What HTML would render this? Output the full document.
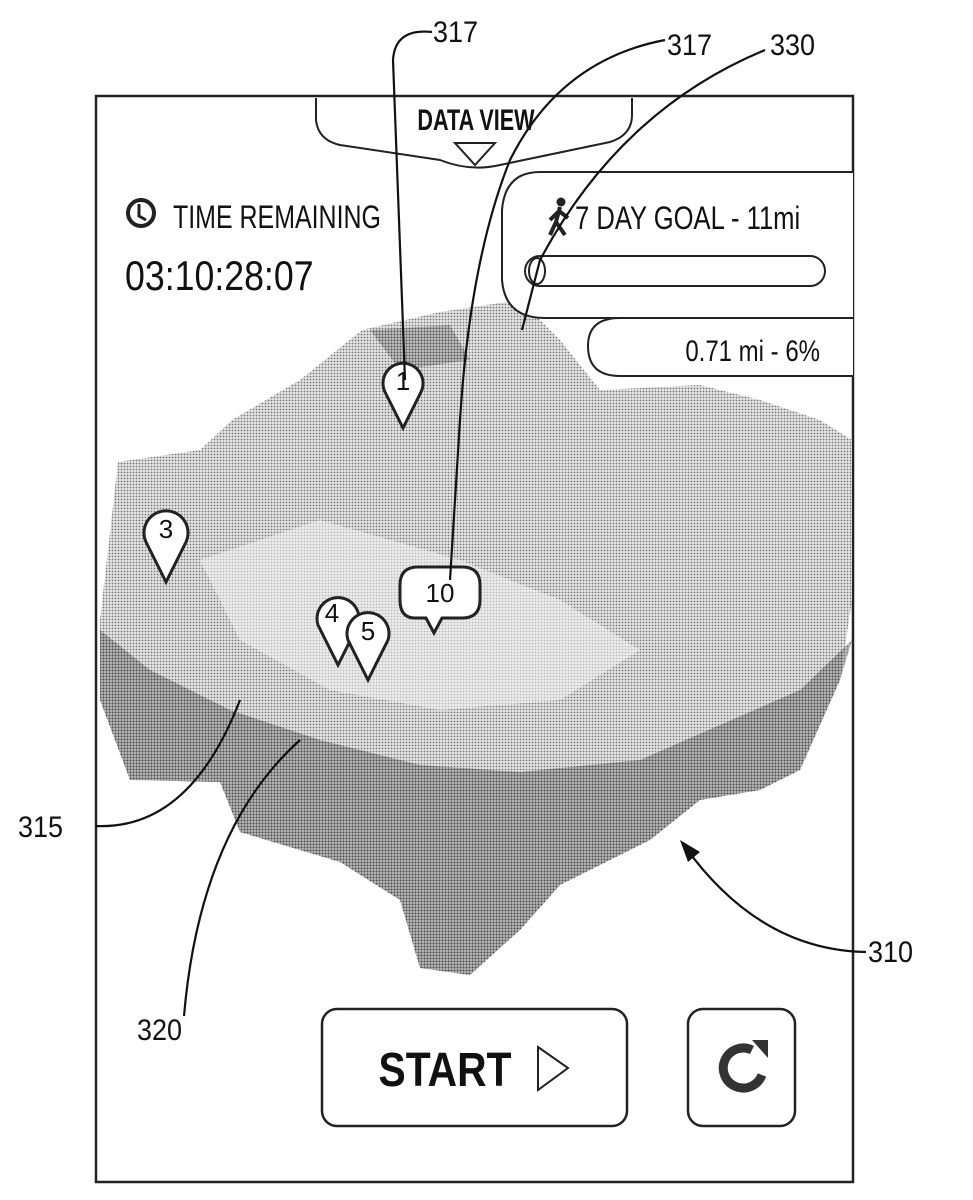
<!DOCTYPE html>
<html><head><meta charset="utf-8"><style>
html,body{margin:0;padding:0;background:#fff}
svg{display:block}
text{font-family:"Liberation Sans",sans-serif;fill:#111}
</style></head><body>
<svg width="973" height="1200" viewBox="0 0 973 1200" xmlns="http://www.w3.org/2000/svg">
<defs>
<pattern id="dots" width="3" height="3" patternUnits="userSpaceOnUse"><rect width="3" height="3" fill="#e4e4e4"/><circle cx="1.5" cy="1.5" r="0.9" fill="#777"/></pattern>
<pattern id="dark" width="3" height="3" patternUnits="userSpaceOnUse"><rect width="3" height="3" fill="#aaa"/><circle cx="1.5" cy="1.5" r="1.2" fill="#333"/></pattern>
</defs>
<rect x="96" y="96" width="757" height="1086" fill="none" stroke="#222" stroke-width="2.5"/>
<!-- terrain -->
<path d="M100,620 L118,462 L200,450 L232,420 L300,380 L362,330 L440,312 L520,300 L560,340 L600,390 L700,385 L760,400 L820,420 L852,440 L852,600 L840,680 L800,770 L760,790 L700,800 L650,840 L560,885 L520,930 L470,975 L420,968 L400,900 L340,862 L240,832 L220,782 L130,780 L100,700 Z" fill="url(#dots)"/>
<path d="M100,630 L150,670 L230,710 L320,740 L420,765 L520,772 L640,760 L720,725 L800,690 L852,640 L840,680 L800,770 L760,790 L700,800 L650,840 L560,885 L520,930 L470,975 L420,968 L400,900 L340,862 L240,832 L220,782 L130,780 L100,700 Z" fill="url(#dark)" opacity="0.6"/>
<path d="M200,560 L320,520 L460,560 L560,600 L640,650 L560,700 L440,710 L330,690 L240,640 Z" fill="#f2f2f2" opacity="0.55"/>
<path d="M370,330 L450,325 L470,360 L400,370 Z" fill="url(#dark)" opacity="0.5"/>
<!-- data view tab -->
<path d="M316,98 L316,120 Q318,140 340,145 L440,160 Q470,172 500,165 L610,142 Q632,135 632,115 L632,98" fill="#fff" stroke="#222" stroke-width="2"/>
<text x="476" y="130" font-size="30" font-weight="bold" text-anchor="middle" transform="translate(476 0) scale(0.72 1) translate(-476 0)">DATA VIEW</text>
<polygon points="455,143 495,143 475,165" fill="none" stroke="#222" stroke-width="2"/>
<!-- time remaining -->
<circle cx="141" cy="213" r="13" fill="none" stroke="#222" stroke-width="4"/>
<path d="M139,204 L139,216 L146,220" fill="none" stroke="#222" stroke-width="3"/>
<text x="173" y="228" font-size="32" transform="translate(173 0) scale(0.78 1) translate(-173 0)">TIME REMAINING</text>
<text x="125" y="290" font-size="42" transform="translate(125 0) scale(0.85 1) translate(-125 0)">03:10:28:07</text>
<!-- goal panel -->
<path d="M853,172 L540,172 Q505,172 502,210 L502,280 Q505,318 545,318 L853,318" fill="#fff" stroke="#222" stroke-width="2"/>
<g fill="#222" stroke="#222">
<circle cx="561" cy="202" r="4"/>
<path d="M560,207 L556,222 L550,235 M556,222 L565,235 M558,212 L550,220 M559,211 L568,218" stroke-width="4" fill="none"/>
</g>
<text x="575" y="229" font-size="32" transform="translate(575 0) scale(0.8 1) translate(-575 0)">7 DAY GOAL - 11mi</text>
<rect x="525" y="256" width="300" height="30" rx="15" fill="#fff" stroke="#222" stroke-width="2"/>
<ellipse cx="537" cy="271" rx="8" ry="13" fill="none" stroke="#222" stroke-width="2"/>
<path d="M853,318 L620,318 Q588,318 588,346 Q588,376 620,376 L853,376" fill="#fff" stroke="#222" stroke-width="2"/>
<text x="820" y="361" font-size="30" text-anchor="end" transform="translate(820 0) scale(0.8 1) translate(-820 0)">0.71 mi - 6%</text>
<!-- pins -->
<g fill="#fff" stroke="#222" stroke-width="3">
<path d="M403,428 L385,392 A20,20 0 1 1 421,392 Z"/>
<path d="M166,582 L146,542 A22,22 0 1 1 186,542 Z"/>
<path d="M338,665 L318,625 A21,21 0 1 1 358,625 Z"/>
<path d="M368,680 L348,640 A21,21 0 1 1 388,640 Z"/>
<path d="M434,633 L426,618 L415,618 Q400,618 400,600 L400,585 Q400,567 418,567 L462,567 Q480,567 480,585 L480,600 Q480,618 462,618 L442,618 Z"/>
</g>
<text x="403" y="390" font-size="26" text-anchor="middle">1</text>
<text x="166" y="538" font-size="26" text-anchor="middle">3</text>
<text x="332" y="622" font-size="26" text-anchor="middle">4</text>
<text x="368" y="640" font-size="26" text-anchor="middle">5</text>
<text x="440" y="602" font-size="26" text-anchor="middle">10</text>
<!-- buttons -->
<rect x="322" y="1009" width="305" height="117" rx="15" fill="#fff" stroke="#222" stroke-width="2.5"/>
<text x="445" y="1086" font-size="48" font-weight="bold" text-anchor="middle" fill="#333" transform="translate(445 0) scale(0.85 1) translate(-445 0)">START</text>
<polygon points="538,1047 568,1068 538,1090" fill="none" stroke="#222" stroke-width="2"/>
<rect x="688" y="1009" width="107" height="117" rx="15" fill="#fff" stroke="#222" stroke-width="2.5"/>
<path d="M752,1050 A20,20 0 1 0 762,1075" fill="none" stroke="#333" stroke-width="9"/>
<polygon points="752,1040 768,1040 768,1058" fill="#333"/>
<!-- leader lines -->
<g fill="none" stroke="#111" stroke-width="2.2">
<path d="M432,32 Q395,28 393,60 L405,380"/>
<path d="M665,40 Q560,60 510,160 Q470,260 460,420 L450,580"/>
<path d="M765,50 Q620,110 540,260 L522,330"/>
<path d="M96,826 Q190,830 240,700"/>
<path d="M184,1016 Q200,830 300,740"/>
<path d="M866,952 Q760,950 686,848"/>
</g>
<polygon points="680,840 700,852 688,862" fill="#111"/>
<text x="433" y="42" font-size="30" transform="translate(433 0) scale(0.9 1) translate(-433 0)">317</text>
<text x="667" y="55" font-size="30" transform="translate(667 0) scale(0.9 1) translate(-667 0)">317</text>
<text x="770" y="55" font-size="30" transform="translate(770 0) scale(0.9 1) translate(-770 0)">330</text>
<text x="18" y="837" font-size="30" transform="translate(18 0) scale(0.9 1) translate(-18 0)">315</text>
<text x="137" y="1040" font-size="30" transform="translate(137 0) scale(0.9 1) translate(-137 0)">320</text>
<text x="868" y="962" font-size="30" transform="translate(868 0) scale(0.9 1) translate(-868 0)">310</text>
</svg>
</body></html>
